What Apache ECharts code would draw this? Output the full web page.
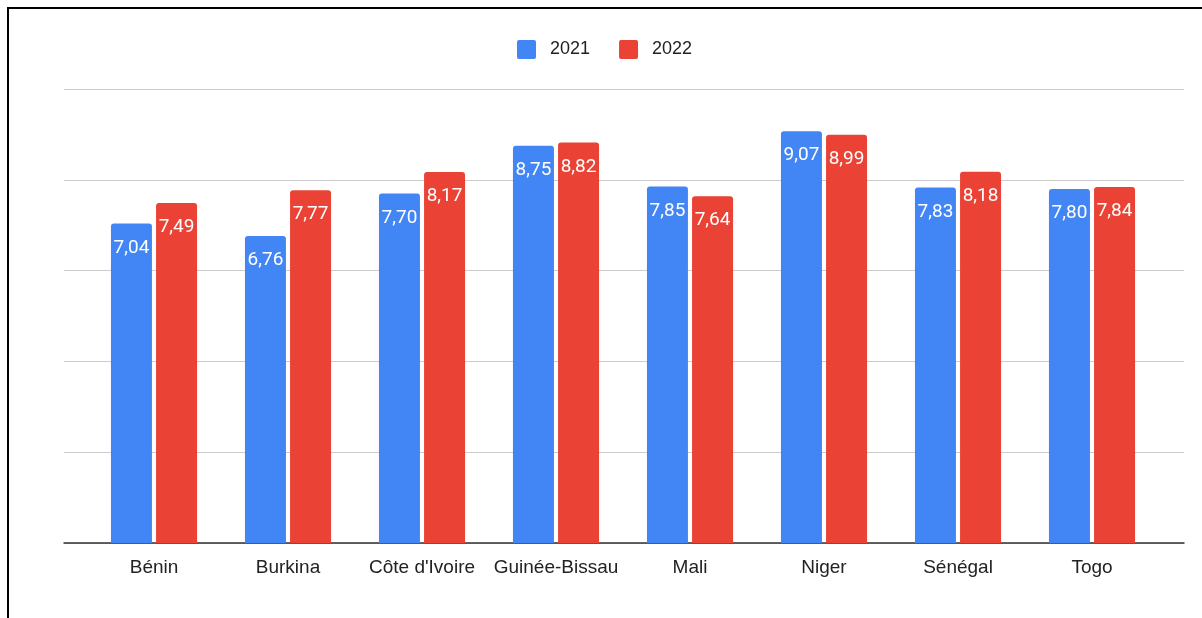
<!DOCTYPE html>
<html>
<head>
<meta charset="utf-8">
<script src="https://cdn.jsdelivr.net/npm/echarts@6/dist/echarts.min.js"></script>
<style>
html,body{margin:0;padding:0;background:#fff;overflow:hidden;}
#frame{position:absolute;left:7px;top:7px;width:1300px;height:700px;border-left:2px solid #000;border-top:2px solid #000;}
#chart{position:absolute;left:0;top:0;width:1202px;height:618px;}
</style>
</head>
<body>
<div id="frame"></div>
<div id="chart"></div>
<script>
const categories = ["Bénin","Burkina","Côte d'Ivoire","Guinée-Bissau","Mali","Niger","Sénégal","Togo"];
const seriesNames = ["2021","2022"];
const values2021 = [7.04,6.76,7.70,8.75,7.85,9.07,7.83,7.80];
const values2022 = [7.49,7.77,8.17,8.82,7.64,8.99,8.18,7.84];

const chart = echarts.init(document.getElementById('chart'), null, {renderer:'canvas'});
const fmt = p => p.value.toFixed(2).replace('.', ',');
const label = {show:true, position:'insideTop', distance:15, color:'#fff', fontSize:19, fontWeight:'normal', fontFamily:'Roboto', formatter:fmt};
const squareIcon = 'path://M2,0H17A2,2,0,0,1,19,2V17A2,2,0,0,1,17,19H2A2,2,0,0,1,0,17V2A2,2,0,0,1,2,0Z';
chart.setOption({
  animation:false,
  legend:{top:35, left:512, itemWidth:19, itemHeight:19, itemGap:29,
    icon:squareIcon,
    textStyle:{fontSize:18, color:'#222', fontFamily:'Liberation Sans', padding:[0,0,0,9]},
    data:seriesNames},
  grid:[
    {left:64, right:18, top:89, bottom:75, containLabel:false},
    {left:87, right:43, top:89, bottom:75, containLabel:false}
  ],
  xAxis:[
    {type:'category', gridIndex:0, data:[''],
     axisLine:{lineStyle:{color:'#333', width:1.5}},
     axisTick:{show:false}, axisLabel:{show:false}},
    {type:'category', gridIndex:1, data:categories,
     axisLine:{show:false},
     axisTick:{show:false},
     axisLabel:{fontSize:19, color:'#222', margin:15, fontFamily:'Liberation Sans', interval:0}}
  ],
  yAxis:[
    {type:'value', gridIndex:0, min:0, max:10, interval:2,
     axisLabel:{show:false}, axisLine:{show:false}, axisTick:{show:false},
     splitLine:{lineStyle:{color:'#ccc', width:1}}},
    {type:'value', gridIndex:1, min:0, max:10, interval:2,
     axisLabel:{show:false}, axisLine:{show:false}, axisTick:{show:false},
     splitLine:{show:false}}
  ],
  series:[
    {name:seriesNames[0], type:'bar', xAxisIndex:1, yAxisIndex:1, data:values2021, barWidth:41, barGap:'10%',
     itemStyle:{color:'#4285F4', borderRadius:[3,3,0,0]}, label:label},
    {name:seriesNames[1], type:'bar', xAxisIndex:1, yAxisIndex:1, data:values2022, barWidth:41,
     itemStyle:{color:'#EA4335', borderRadius:[3,3,0,0]}, label:label}
  ]
});
</script>
</body>
</html>
